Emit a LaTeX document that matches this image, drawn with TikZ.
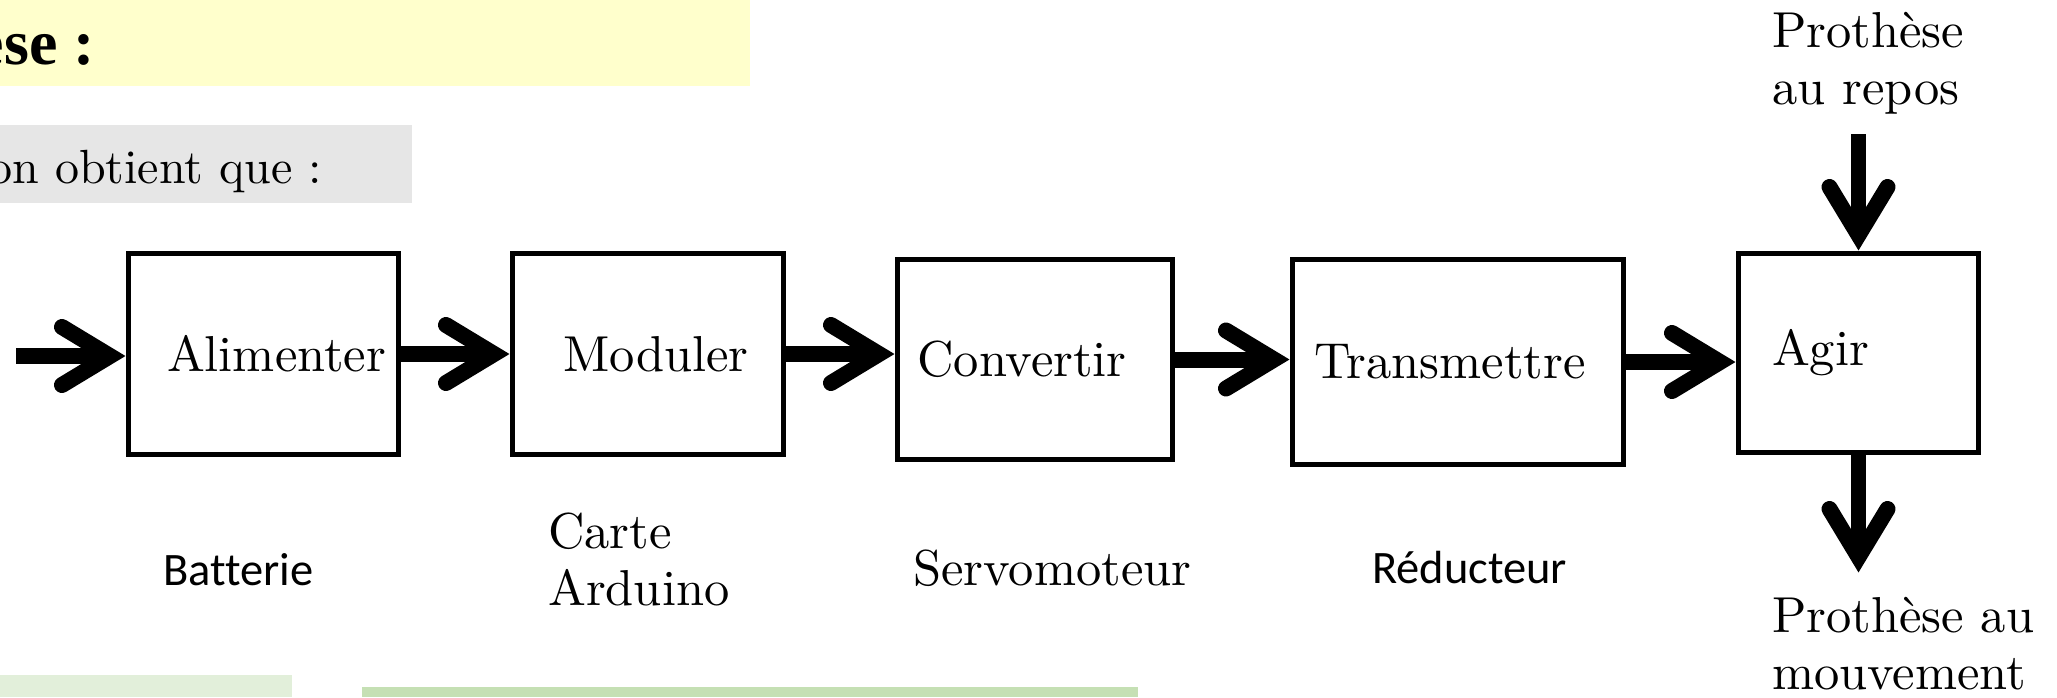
\documentclass[tikz,border=0pt]{standalone}
\usepackage{fontspec}
\setmainfont{lmroman10-regular.otf}[BoldFont=lmroman10-bold.otf]
\newfontfamily\calibrifont{Carlito}[Ligatures=NoCommon]
\newfontfamily\timesfont{Liberation Serif}
\usetikzlibrary{calc}
\definecolor{bandyellow}{HTML}{FFFFCC}
\definecolor{bandgray}{HTML}{E6E6E6}
\definecolor{bandgreenA}{HTML}{E2EFDA}
\definecolor{bandgreenB}{HTML}{C5E0B4}
\newcommand\diagfont{\fontsize{50.5}{57}\selectfont}
\newcommand\sansdiagfont{\calibrifont\fontsize{46.5}{54}\selectfont}
\begin{document}
\begin{tikzpicture}[x=1pt,y=-1pt,
  box/.style={draw, line width=5pt, rectangle, inner sep=0pt, font=\diagfont},
  lbl/.style={inner sep=0pt, font=\diagfont},
  slbl/.style={inner sep=0pt, font=\sansdiagfont},
  mlbl/.style={inner sep=0pt, font=\diagfont, align=left, anchor=north west},
  shaft/.style={line width=16pt, shorten >=16pt},
  vshaft/.style={line width=15pt, shorten >=16pt},
  chev/.pic={\draw[line width=16pt, line cap=round, line join=miter]
     (-64pt,29pt) -- (-16pt,0pt) -- (-64pt,-29pt);}
]
\useasboundingbox (0,0) rectangle (2057,697);
% background bands
\fill[bandyellow] (0,0) rectangle (750,86);
\fill[bandgray] (0,125) rectangle (412,203);
\fill[bandgreenA] (0,675) rectangle (292,697);
\fill[bandgreenB] (362,687) rectangle (1138,697);
% header texts
\node[inner sep=0pt, anchor=base east, font=\timesfont\bfseries\fontsize{64}{72}\selectfont] (titre) at (95,64) {ese :};
\node[inner sep=0pt, anchor=base east, font=\fontsize{48}{56}\selectfont] (intro) at (322,183) {on obtient que :};
% boxes
\node[box, minimum width=270, minimum height=201] (alim) at (263.5,354) {\hspace*{26pt}Alimenter};
\node[box, minimum width=271, minimum height=201] (mod) at (648,354) {\hspace*{16pt}Moduler};
\node[box, minimum width=275, minimum height=200] (conv) at (1035,359.5) {Convertir\hspace*{26pt}};
\node[box, minimum width=331, minimum height=205] (trans) at (1458,362) {Transmettre\hspace*{16pt}};
\node[box, minimum width=240, minimum height=199] (agir) at (1858.5,353) {Agir\hspace*{76pt}};
% labels under boxes
\node[slbl, anchor=base west] (batt) at (163,585) {Batterie};
\node[mlbl] (carte) at (548,513) {Carte\\Arduino};
\node[lbl, anchor=base west] (servo) at (913,585) {Servomoteur};
\node[slbl, anchor=base west] (redu) at (1372,583) {Réducteur};
\node[mlbl] (repostxt) at (1772,12) {Prothèse\\au repos};
\node[mlbl] (mouvtxt) at (1772,597) {Prothèse au\\mouvement};
% connectors
\coordinate (src) at (16,356);
\draw[shaft] (src) -- (src -| alim.west);
\pic at (src -| alim.west) {chev};
\draw[shaft] (alim.east) -- (alim.east -| mod.west);
\pic at (alim.east -| mod.west) {chev};
\draw[shaft] (mod.east) -- (mod.east -| conv.west);
\pic at (mod.east -| conv.west) {chev};
\draw[shaft] (conv.east) -- (conv.east -| trans.west);
\pic at (conv.east -| trans.west) {chev};
\draw[shaft] (trans.east) -- (trans.east -| agir.west);
\pic at (trans.east -| agir.west) {chev};
\coordinate (repos) at ($(agir.north)+(0,-117)$);
\draw[vshaft] (repos) -- (agir.north);
\pic[rotate=-90] at (agir.north) {chev};
\coordinate (mouv) at ($(agir.south)+(0,118)$);
\draw[vshaft] (agir.south) -- (mouv);
\pic[rotate=-90] at (mouv) {chev};
\end{tikzpicture}
\end{document}
